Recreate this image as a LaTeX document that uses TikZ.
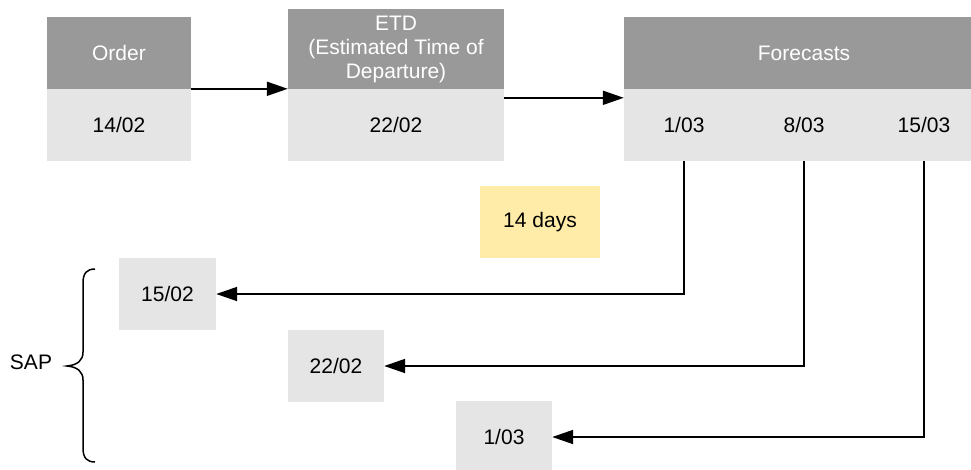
\documentclass[tikz,border=0pt]{standalone}
\usepackage{fontspec}
\setmainfont{Liberation Sans}
\usetikzlibrary{arrows.meta}
\definecolor{hdrgray}{RGB}{153,153,153}
\definecolor{bodygray}{RGB}{229,229,229}
\definecolor{noteyellow}{RGB}{255,236,168}
\begin{document}
\begin{tikzpicture}[x=1pt,y=-1pt,
  every node/.style={font=\fontsize{21}{24}\selectfont, inner sep=0pt},
  hdr/.style={fill=hdrgray, text=white, align=center},
  bodybox/.style={fill=bodygray, text=black},
  notebox/.style={fill=noteyellow, text=black},
  plain/.style={text=black},
  arr/.style={draw=black, line width=1.8pt, -{Triangle[length=21pt,width=14pt]}},
  bracestyle/.style={draw=black, line width=1.5pt}]
\useasboundingbox (0,0) rectangle (971,469);
% top boxes
\node[hdr, minimum width=144pt, minimum height=72pt] (orderH) at (119,53) {Order};
\node[bodybox, minimum width=144pt, minimum height=72pt] (orderB) at (119,125) {14/02};
\node[hdr, minimum width=216pt, minimum height=80pt] (etdH) at (396,49) {ETD\\(Estimated Time of\\Departure)};
\node[bodybox, minimum width=216pt, minimum height=72pt] (etdB) at (396,125) {22/02};
\node[hdr, minimum width=360pt, minimum height=72pt] (fcH) at (804,53) {Forecasts};
\node[bodybox, minimum width=360pt, minimum height=72pt] (fcB) at (804,125) {};
\node[plain] (f1) at (684,125) {1/03};
\node[plain] (f2) at (804,125) {8/03};
\node[plain] (f3) at (924,125) {15/03};
% note
\node[notebox, minimum width=120pt, minimum height=72pt] (days) at (540,222) {14 days};
% SAP boxes
\node[bodybox, minimum width=97pt, minimum height=72pt] (s1) at (167.5,294) {15/02};
\node[bodybox, minimum width=96pt, minimum height=72pt] (s2) at (336,366) {22/02};
\node[bodybox, minimum width=96pt, minimum height=72pt] (s3) at (504,437) {1/03};
\node[plain] (sap) at (31,362) {SAP};
% connectors
\draw[arr] (orderB.north east) -- (etdB.north west);
\draw[arr] ([yshift=-9pt]etdB.north east) -- ([yshift=-9pt]fcB.north west);
\draw[arr] (f1 |- fcB.south) |- (s1.east);
\draw[arr] (f2 |- fcB.south) |- (s2.east);
\draw[arr] (f3 |- fcB.south) |- (s3.east);
% brace
\draw[bracestyle] (95,269) .. controls (87,269) and (83,273) .. (83,283)
  -- (83,352) .. controls (83,360) and (78,365) .. (67,366)
  .. controls (78,367) and (83,372) .. (83,380)
  -- (83,448) .. controls (83,458) and (87,462) .. (95,462);
\end{tikzpicture}
\end{document}
